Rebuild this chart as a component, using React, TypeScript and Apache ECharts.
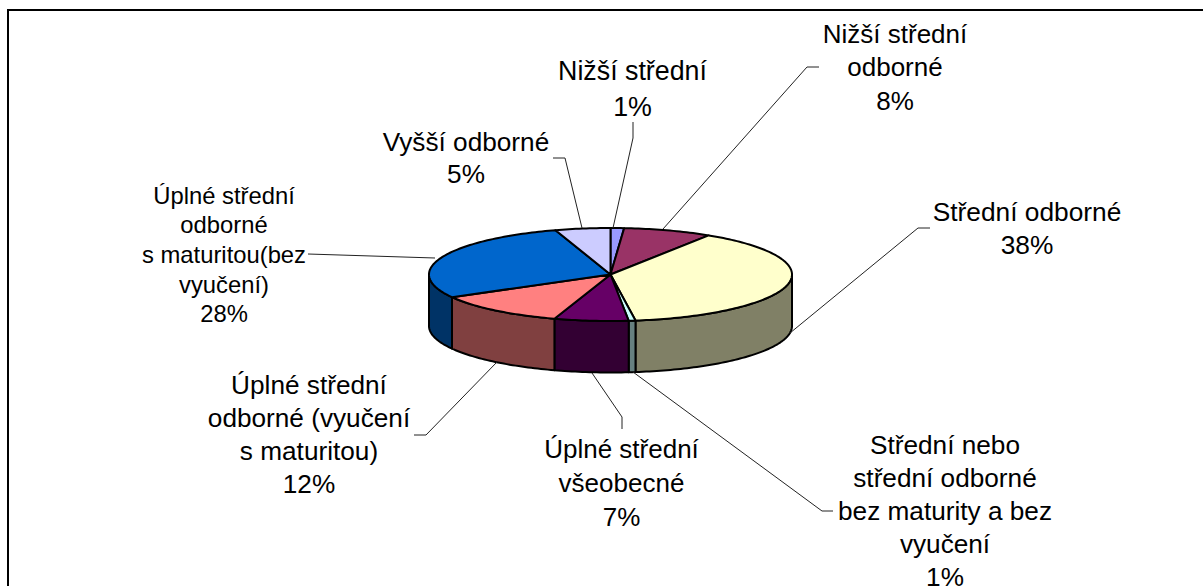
import React, { useEffect, useRef } from "react";
import * as echarts from "echarts";

const categories = ["Nižší střední", "Nižší střední odborné", "Střední odborné", "Střední nebo střední odborné bez maturity a bez vyučení", "Úplné střední všeobecné", "Úplné střední odborné (vyučení s maturitou)", "Úplné střední odborné s maturitou(bez vyučení)", "Vyšší odborné"];
const shares = [1.2, 7.9, 38.7, 0.6, 6.6, 11.9, 28.2, 4.9];
const percentLabels = ["1%", "8%", "38%", "1%", "7%", "12%", "28%", "5%"];
const labelLines = [
  ["Nižší střední"],
  ["Nižší střední", "odborné"],
  ["Střední odborné"],
  ["Střední nebo", "střední odborné", "bez maturity a bez", "vyučení"],
  ["Úplné střední", "všeobecné"],
  ["Úplné střední", "odborné (vyučení", "s maturitou)"],
  ["Úplné střední", "odborné", "s maturitou(bez", "vyučení)"],
  ["Vyšší odborné"],
];
const topColors = ["#9999FF", "#993366", "#FFFFCC", "#CCFFFF", "#660066", "#FF8080", "#0066CC", "#CCCCFF"];
const sideColors = ["#4D4D80", "#4D1A33", "#808066", "#668080", "#330033", "#804040", "#003366", "#666680"];

// label centre x, first-line centre y, font size, line height
const labelPos = [
  [632.5, 71, 26.8, 36],
  [895, 33.5, 26, 33.5],
  [1027, 212, 26.3, 33],
  [945, 444.5, 26.2, 33.2],
  [621.5, 449, 26, 34],
  [309, 385, 26.2, 33],
  [224, 195, 23.8, 29.7],
  [466, 142, 26.2, 32],
];
const leaders = [
  [[633, 122], [633, 138], [613, 228]],
  [[819, 67], [807, 67], [663, 229]],
  [[930, 228], [918, 228], [790, 333]],
  [[833, 511], [822, 511], [633, 372]],
  [[622, 429], [622, 417], [592, 373]],
  [[414, 435], [426, 435], [497, 362]],
  [[308, 254], [435, 258]],
  [[553, 158], [565, 158], [582, 228]],
];
const pie = { cx: 610.5, cy: 274.5, rx: 181.5, ry: 46.5, depth: 51.5 };

function angles() {
  const out: [number, number][] = [];
  let acc = 0;
  const total = shares.reduce((a, b) => a + b, 0);
  shares.forEach((v) => {
    const s = (acc / total) * Math.PI * 2;
    acc += v;
    out.push([s, (acc / total) * Math.PI * 2]);
  });
  return out;
}
const pt = (t: number, dy = 0) => [pie.cx + pie.rx * Math.sin(t), pie.cy - pie.ry * Math.cos(t) + dy];
function arc(a: number, b: number, dy = 0) {
  const n = Math.max(2, Math.ceil((b - a) / 0.02));
  const p: number[][] = [];
  for (let i = 0; i <= n; i++) p.push(pt(a + ((b - a) * i) / n, dy));
  return p;
}

export default function App() {
  const ref = useRef<HTMLDivElement>(null);
  useEffect(() => {
    const chart = echarts.init(ref.current!, undefined, { renderer: "svg" });
    const ang = angles();
    const stroke = { stroke: "#000", lineWidth: 2, lineJoin: "round" };
    chart.setOption({
      animation: false,
      backgroundColor: "#fff",
      series: [
        {
          type: "custom",
          coordinateSystem: "none",
          silent: true,
          data: shares,
          renderItem: (p: any) => {
            const [a, b] = ang[p.dataIndex];
            const lo = Math.max(a, Math.PI / 2);
            const hi = Math.min(b, (Math.PI * 3) / 2);
            if (hi <= lo) return { type: "group", children: [] };
            const pts = [...arc(lo, hi), ...arc(lo, hi, pie.depth).reverse()];
            return { type: "polygon", shape: { points: pts }, style: { fill: sideColors[p.dataIndex], ...stroke } };
          },
        },
        {
          type: "custom",
          coordinateSystem: "none",
          silent: true,
          data: shares,
          renderItem: (p: any) => {
            const [a, b] = ang[p.dataIndex];
            return { type: "polygon", shape: { points: [[pie.cx, pie.cy], ...arc(a, b)] }, style: { fill: topColors[p.dataIndex], ...stroke } };
          },
        },
        {
          type: "custom",
          coordinateSystem: "none",
          silent: true,
          data: categories.map((name, i) => ({ name, value: shares[i] })),
          renderItem: (p: any) => {
            const i = p.dataIndex;
            const [x, y, size, lh] = labelPos[i];
            return {
              type: "group",
              children: [
                { type: "polyline", shape: { points: leaders[i] }, style: { fill: "none", stroke: "#222", lineWidth: 1 } },
                {
                  type: "text",
                  style: {
                    x,
                    y: y - lh / 2,
                    text: [...labelLines[i], percentLabels[i]].join("\n"),
                    font: `${size}px "Liberation Sans"`,
                    lineHeight: lh,
                    fill: "#000",
                    align: "center",
                    verticalAlign: "top",
                  },
                },
              ],
            };
          },
        },
      ],
      graphic: [
        { type: "polyline", shape: { points: [[8, 586], [8, 10], [1203, 10]] }, style: { fill: "none", stroke: "#000", lineWidth: 2 }, z: 10 },
      ],
    });
    return () => chart.dispose();
  }, []);
  return <div ref={ref} style={{ position: "fixed", left: 0, top: 0, width: 1203, height: 586 }} />;
}
